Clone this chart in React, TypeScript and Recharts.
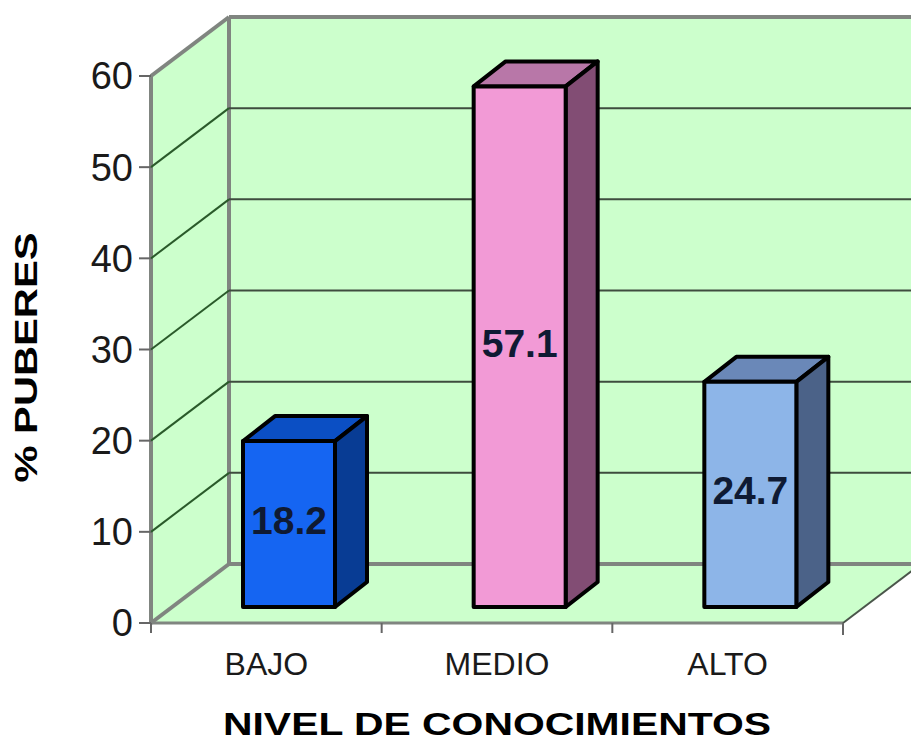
import { BarChart, Bar, XAxis, YAxis, CartesianGrid, Label } from "recharts";

const categories = ["BAJO", "MEDIO", "ALTO"];
const percentages = [18.2, 57.1, 24.7];
const yTicks = [0, 10, 20, 30, 40, 50, 60];

const data = categories.map((name, i) => ({ name, value: percentages[i] }));

// face colours per bar: front / top / side
const FRONT = ["#1565f2", "#f29ad6", "#8db5e8"];
const TOP = ["#0b4fc4", "#b877a8", "#6a88b8"];
const SIDE = ["#083c94", "#824d74", "#4b6288"];

const FONT = "'Liberation Sans', Arial, sans-serif";
const WALL = "#ccffcc";
const EDGE = "#808580";

// 3d depth offsets
const WALL_DX = 78;
const WALL_DY = -59;
const BAR_DX = 23;
const BAR_DY = -16;
const DEPTH_X = 32;
const DEPTH_Y = -25;

function Walls({ left, right, top, bottom }: { left: number; right: number; top: number; bottom: number }) {
  const L = left + WALL_DX;
  const R = right + WALL_DX;
  const T = top + WALL_DY;
  const B = bottom + WALL_DY;
  return (
    <g>
      <polygon points={`${left},${top} ${L},${T} ${L},${B} ${left},${bottom}`} fill={WALL} />
      <polygon points={`${L},${T} ${R},${T} ${R},${B} ${L},${B}`} fill={WALL} />
      <polygon points={`${left},${bottom} ${L},${B} ${R},${B} ${right},${bottom}`} fill={WALL} />
      <line x1={L} y1={T} x2={L} y2={B} stroke={EDGE} strokeWidth={4} />
      <line x1={left} y1={top} x2={left} y2={bottom} stroke={EDGE} strokeWidth={4} />
      <line x1={left} y1={bottom} x2={right} y2={bottom} stroke={EDGE} strokeWidth={3} />
      <line x1={right} y1={bottom} x2={R} y2={B} stroke="#4a554a" strokeWidth={2} />
    </g>
  );
}

function GridLine(props: any) {
  const { x1, x2, y1, index } = props;
  const top = props.y ?? props.offset?.top;
  const bottom = top + (props.height ?? props.offset?.height);
  const edge = Math.abs(y1 - top) < 0.5 || Math.abs(y1 - bottom) < 0.5;
  return (
    <g>
      {index === 0 && <Walls left={x1} right={x2} top={top} bottom={bottom} />}
      <line
        x1={x1 + WALL_DX}
        y1={y1 + WALL_DY}
        x2={x2 + WALL_DX}
        y2={y1 + WALL_DY}
        stroke={edge ? EDGE : "#3e4c3e"}
        strokeWidth={edge ? 4 : 2}
      />
      <line
        x1={x1}
        y1={y1}
        x2={x1 + WALL_DX}
        y2={y1 + WALL_DY}
        stroke={edge ? EDGE : "#2a5a2a"}
        strokeWidth={edge ? 4 : 2}
      />
    </g>
  );
}

function Box3D(props: any) {
  const { x, y, width, height, index, payload } = props;
  const fx = x + BAR_DX;
  const fy = y + BAR_DY;
  const r = fx + width;
  const b = fy + height;
  const topFace = `${fx},${fy} ${fx + DEPTH_X},${fy + DEPTH_Y} ${r + DEPTH_X},${fy + DEPTH_Y} ${r},${fy}`;
  const sideFace = `${r},${fy} ${r + DEPTH_X},${fy + DEPTH_Y} ${r + DEPTH_X},${b + DEPTH_Y} ${r},${b}`;
  return (
    <g strokeLinejoin="round">
      <polygon points={topFace} fill={TOP[index]} stroke="#000" strokeWidth={4} />
      <polygon points={sideFace} fill={SIDE[index]} stroke="#000" strokeWidth={4} />
      <rect x={fx} y={fy} width={width} height={height} fill={FRONT[index]} stroke="#000" strokeWidth={4} />
      <text
        x={fx + width / 2}
        y={fy + height / 2 + 10}
        textAnchor="middle"
        fontFamily={FONT}
        fontWeight="bold"
        fontSize={39}
        fill="#0f1a33"
      >
        {payload.value.toFixed(1)}
      </text>
    </g>
  );
}

function CategoryTick(props: any) {
  const { x, y, payload, index, visibleTicksCount } = props;
  const half = payload.offset || 115;
  return (
    <g>
      <line x1={x - half} y1={y} x2={x - half} y2={y + 10} stroke="#666" strokeWidth={2} />
      {index === visibleTicksCount - 1 && (
        <line x1={x + half} y1={y} x2={x + half} y2={y + 12} stroke="#666" strokeWidth={2} />
      )}
      <text x={x} y={y + 52} textAnchor="middle" fontFamily={FONT} fontSize={32} fill="#1a1a1a">
        {payload.value}
      </text>
    </g>
  );
}

function XTitle(props: any) {
  const vb = props.viewBox || { x: 151, y: 623, width: 692 };
  return (
    <text
      x={vb.x + vb.width / 2}
      y={vb.y + 112}
      textAnchor="middle"
      fontFamily={FONT}
      fontWeight="bold"
      fontSize={32}
      textLength={548}
      lengthAdjust="spacingAndGlyphs"
      fill="#000"
    >
      NIVEL DE CONOCIMIENTOS
    </text>
  );
}

function YTitle(props: any) {
  const vb = props.viewBox || { x: 0, y: 76, height: 547 };
  const cx = vb.x + 37;
  const cy = vb.y + vb.height / 2 + 8;
  return (
    <text
      x={cx}
      y={cy}
      transform={`rotate(-90, ${cx}, ${cy})`}
      textAnchor="middle"
      fontFamily={FONT}
      fontWeight="bold"
      fontSize={31}
      textLength={250}
      lengthAdjust="spacingAndGlyphs"
      fill="#000"
    >
      % PUBERES
    </text>
  );
}

export default function App() {
  return (
    <div style={{ position: "absolute", left: 0, top: 0, background: "#fff" }}>
      <BarChart width={911} height={747} data={data} margin={{ top: 76, right: 68, left: 0, bottom: 0 }}>
        <CartesianGrid horizontal={GridLine} vertical={false} fill="none" />
        <XAxis
          dataKey="name"
          height={124}
          axisLine={false}
          tickLine={false}
          tickSize={0}
          tickMargin={0}
          tick={CategoryTick}
          interval={0}
        >
          <Label content={XTitle} />
        </XAxis>
        <YAxis
          width={151}
          domain={[0, 60]}
          ticks={yTicks}
          axisLine={false}
          tickSize={12}
          tickMargin={6}
          tickLine={{ stroke: "#666", strokeWidth: 2 }}
          tick={{ fontSize: 38, fill: "#1a1a1a", fontFamily: FONT }}
        >
          <Label content={YTitle} />
        </YAxis>
        <Bar dataKey="value" barSize={92} shape={Box3D} isAnimationActive={false} />
      </BarChart>
    </div>
  );
}
